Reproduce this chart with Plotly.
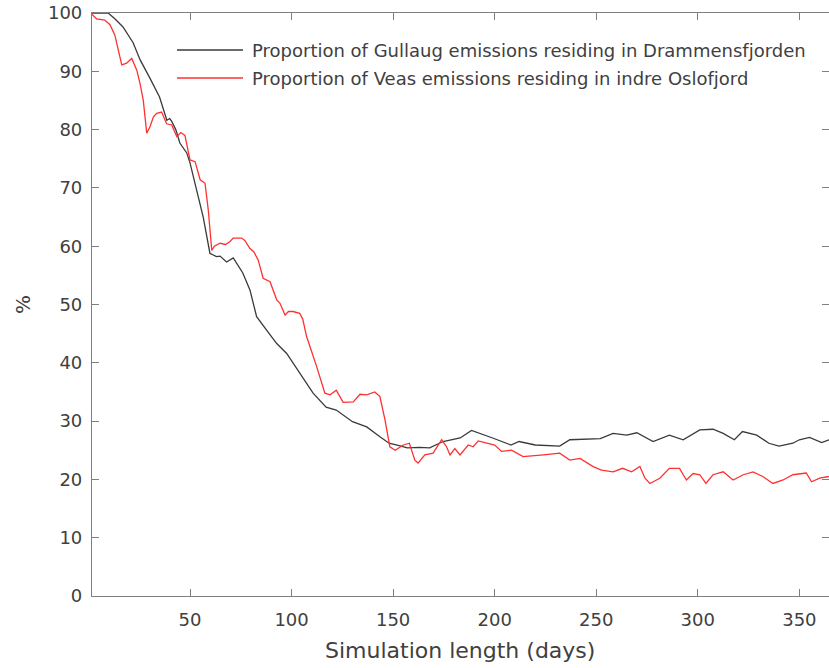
import plotly.graph_objects as go

# ---- data ----
gullaug_days = [1, 5, 9.7, 13, 17, 22, 25.4, 30, 35, 38.6, 40, 41, 43, 45, 48.4,
                50, 53.3, 56.5, 59.8, 63, 64.8, 68, 71.3, 76, 79.5, 82.8, 87.7, 92.7, 97.6, 104,
                110.6, 117, 122, 130, 137, 143.5, 148, 153, 157, 163, 168, 174.6, 183, 188.6, 192.7,
                199, 208, 212, 220, 232, 237, 245, 252, 258.3, 265, 270, 278, 286, 292.8, 301,
                307.5, 312.5, 318, 322, 329, 335, 340, 346.8, 350, 355, 361, 364.6]
gullaug_pct = [100, 100, 100, 99, 97.6, 94.9, 92, 89, 85.6, 81.6, 81.9, 81.4, 80, 77.7, 76,
               74.3, 69.6, 65, 58.8, 58.2, 58.3, 57.3, 58, 55.4, 52.5, 47.9, 45.6, 43.3, 41.6, 38.2,
               34.8, 32.4, 31.9, 29.9, 29, 27.3, 26.2, 25.8, 25.4, 25.5, 25.4, 26.5, 27.1, 28.4, 27.9,
               27.1, 25.9, 26.5, 25.9, 25.7, 26.8, 26.9, 27, 27.9, 27.6, 28, 26.5, 27.6, 26.8, 28.5,
               28.6, 27.9, 26.8, 28.2, 27.6, 26.2, 25.7, 26.2, 26.8, 27.2, 26.3, 26.8]

veas_days = [1, 4, 8, 10.6, 13, 14.7, 16.4, 18.8, 21.3, 23.8, 25.4, 27, 27.9, 28.7, 30.3,
             32, 33.6, 36, 38.5, 41, 43.5, 45.5, 47.5, 50, 52.5, 55, 57.4, 59, 60.7, 62,
             64.8, 67.5, 69.7, 71.3, 73.8, 75.4, 77, 79.5, 81.5, 83.6, 86, 89.4, 92.7, 94.3, 96.8,
             98.5, 100.8, 104, 105.5, 107.4, 112.4, 116.4, 119, 122, 125.4, 130.4, 133.7, 137, 141, 143.5,
             146, 148.4, 151, 155, 158, 160.7, 162.3, 165.6, 169.7, 173.9, 176.3, 178, 180.4, 182.9, 187,
             189.4, 191.9, 196, 200, 203.4, 208.3, 214, 219, 224, 232, 237, 242, 248.5, 252.6, 258.3,
             263, 267.4, 271.5, 274, 276.4, 281.3, 286, 291, 294.4, 297.7, 301, 304, 307.5, 312.5, 317.4,
             322.4, 327.2, 332, 337, 342, 346.8, 353.4, 356, 360, 364.5]
veas_pct = [100, 99, 98.8, 98, 96.2, 93.7, 91.1, 91.4, 92.2, 90.2, 87.9, 85, 82.2, 79.4, 80.5,
            82.2, 82.8, 83, 81, 80.8, 78.8, 79.5, 79, 74.8, 74.5, 71.4, 70.8, 66.2, 59.3, 60,
            60.5, 60.3, 60.8, 61.4, 61.4, 61.4, 61.0, 59.6, 59.0, 57.6, 54.5, 53.9, 50.8, 50.2, 48.2,
            48.8, 48.8, 48.5, 47.5, 44.5, 39.3, 34.8, 34.5, 35.3, 33.2, 33.3, 34.6, 34.5, 35, 34.2,
            30.2, 25.6, 25, 25.9, 26.2, 23.3, 22.8, 24.2, 24.5, 26.8, 25.6, 24.2, 25.3, 24.2, 25.9,
            25.6, 26.6, 26.2, 25.9, 24.8, 25, 23.9, 24.0, 24.2, 24.5, 23.3, 23.6, 22.2, 21.6, 21.3,
            21.9, 21.3, 22.2, 20.2, 19.3, 20.2, 21.9, 21.9, 19.9, 21, 20.8, 19.3, 20.8, 21.3, 19.9,
            20.8, 21.3, 20.5, 19.3, 19.9, 20.8, 21.1, 19.6, 20.2, 20.5]

x_ticks = [50, 100, 150, 200, 250, 300, 350]
y_ticks = [0, 10, 20, 30, 40, 50, 60, 70, 80, 90, 100]

gullaug_name = "Proportion of Gullaug emissions residing in Drammensfjorden"
veas_name = "Proportion of Veas emissions residing in indre Oslofjord"
x_title = "Simulation length (days)"
y_title = "%"

BLACK = "#3a3a3a"
RED = "#ff3030"
FONT = "DejaVu Sans, Arial, sans-serif"
TXT = "#404040"

fig = go.Figure()
fig.add_trace(go.Scatter(x=gullaug_days, y=gullaug_pct, mode="lines", name=gullaug_name,
                         line=dict(color=BLACK, width=1.3), showlegend=False))
fig.add_trace(go.Scatter(x=veas_days, y=veas_pct, mode="lines", name=veas_name,
                         line=dict(color=RED, width=1.3), showlegend=False))

# manual MATLAB-style legend (no box)
for i, (name, col) in enumerate([(gullaug_name, BLACK), (veas_name, RED)]):
    yy = 0.9365 - i * 0.048
    fig.add_shape(type="line", xref="paper", yref="paper", x0=0.1153, x1=0.2049,
                  y0=yy, y1=yy, line=dict(color=col, width=1.3))
    fig.add_annotation(xref="paper", yref="paper", x=0.2144, y=yy, text=name,
                       showarrow=False, xanchor="left", yanchor="middle",
                       font=dict(family=FONT, size=18, color=TXT))

# axis titles
fig.add_annotation(xref="paper", yref="paper", x=(460 - 92) / 737, y=-(650 - 596) / 583,
                   text=x_title, showarrow=False, xanchor="center", yanchor="middle",
                   font=dict(family=FONT, size=22, color=TXT))
fig.add_annotation(xref="paper", yref="paper", x=-(92 - 23) / 737, y=(596 - 305) / 583,
                   text=y_title, showarrow=False, xanchor="center", yanchor="middle",
                   textangle=-90, font=dict(family=FONT, size=20, color=TXT))

axis_common = dict(showline=True, linecolor="#808080", linewidth=1.2, mirror="ticks",
                   ticks="inside", ticklen=7, tickcolor="#808080", tickwidth=1.2,
                   showgrid=False, zeroline=False, automargin=False,
                   ticklabeloverflow="allow",
                   tickfont=dict(family=FONT, size=18, color=TXT))

fig.update_xaxes(range=[1.75, 364.6], tickvals=x_ticks, ticktext=[str(v) for v in x_ticks],
                 ticklabelstandoff=7, **axis_common)
fig.update_yaxes(range=[0, 100], tickvals=y_ticks, ticktext=[str(v) for v in y_ticks],
                 ticklabelstandoff=5, **axis_common)

fig.update_layout(width=829, height=668, margin=dict(l=92, r=0, t=13, b=72),
                  plot_bgcolor="white", paper_bgcolor="white")

# remove the default 8px page margin so the figure fills the window exactly
fig.write_html("out.html", config={"displayModeBar": False},
               post_script="document.body.style.margin='0';document.body.style.overflow='hidden';")
